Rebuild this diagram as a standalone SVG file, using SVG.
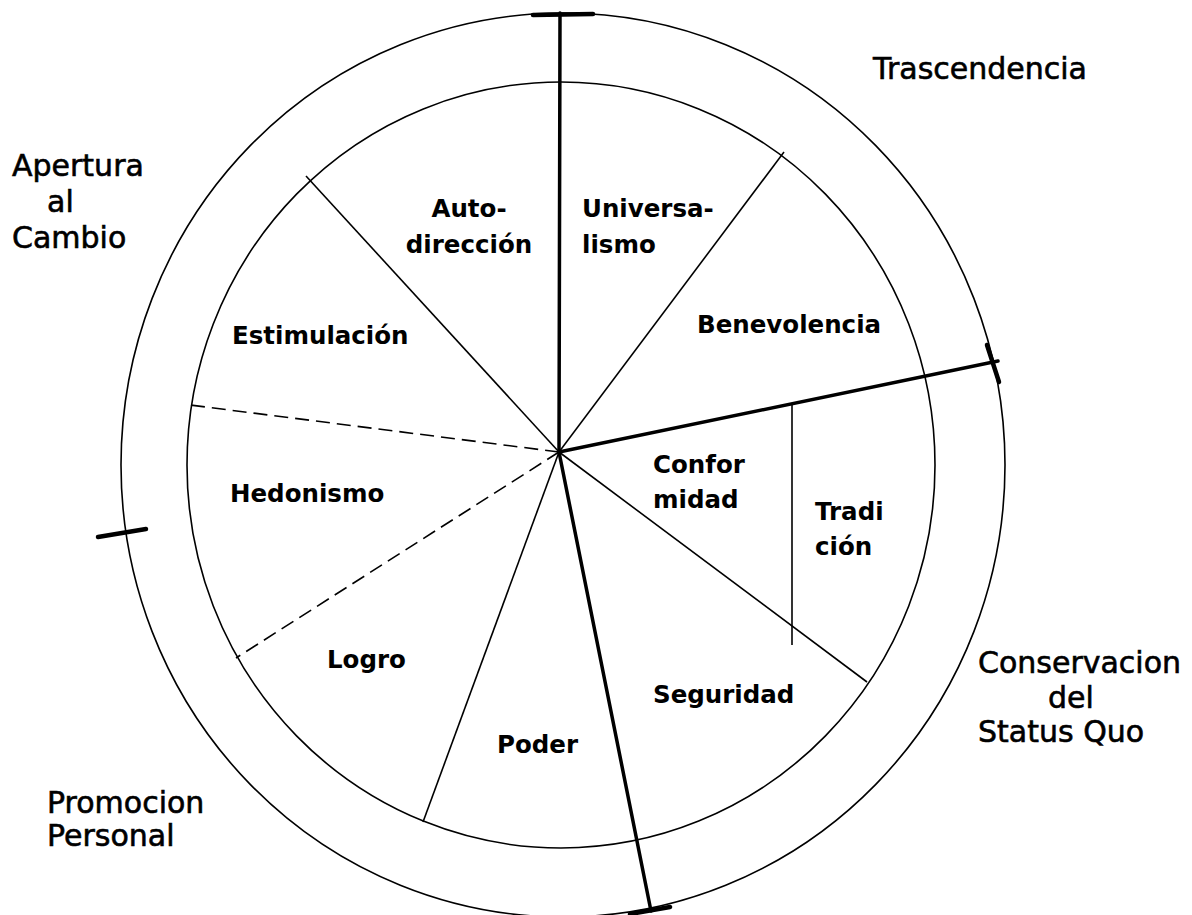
<svg xmlns="http://www.w3.org/2000/svg" width="1192" height="915" viewBox="0 0 1192 915">
<style>
.ring{fill:none;stroke:#000;stroke-width:1.6}
.thin{stroke:#000;stroke-width:1.6;fill:none}
.dash{stroke:#000;stroke-width:1.6;stroke-dasharray:14 7;fill:none}
.thick{stroke:#000;stroke-width:3.5;fill:none;stroke-linecap:round}
.tick{stroke:#000;stroke-width:4.5;fill:none;stroke-linecap:round}
.in{font-family:"DejaVu Sans",sans-serif;font-weight:bold;font-size:24.5px;fill:#000}
.out{font-family:"DejaVu Sans",sans-serif;font-size:30px;fill:#000;stroke:#000;stroke-width:0.6}
</style>
<rect width="1192" height="915" fill="#fff"/>
<g id="rings">
<ellipse class="ring" cx="563" cy="465" rx="442" ry="452"/>
<ellipse class="ring" cx="561" cy="465" rx="374" ry="383"/>
</g>
<g id="connectors">
<line class="thin" x1="559" y1="452" x2="306" y2="176"/>
<line class="dash" x1="559" y1="452" x2="190" y2="405"/>
<line class="dash" x1="559" y1="452" x2="236" y2="658"/>
<line class="thin" x1="559" y1="452" x2="423" y2="822"/>
<line class="thin" x1="559" y1="452" x2="784" y2="152"/>
<line class="thin" x1="559" y1="452" x2="867" y2="682"/>
<line class="thin" x1="792" y1="404" x2="792" y2="645"/>
<line class="thick" x1="560" y1="13" x2="559" y2="452"/>
<line class="thick" x1="559" y1="452" x2="998" y2="361"/>
<line class="thick" x1="559" y1="452" x2="651" y2="911"/>
<line class="tick" x1="533" y1="15" x2="593" y2="14"/>
<line class="tick" x1="987" y1="345" x2="999" y2="382"/>
<line class="tick" x1="98" y1="537" x2="146" y2="529"/>
<line class="tick" x1="630" y1="914" x2="670" y2="907"/>
</g>
<g id="autodireccion"><text class="in" x="469" y="217" text-anchor="middle">Auto-</text><text class="in" x="469" y="253" text-anchor="middle">dirección</text></g>
<g id="universalismo"><text class="in" x="582" y="217">Universa-</text><text class="in" x="582" y="253">lismo</text></g>
<g id="estimulacion"><text class="in" x="232" y="344">Estimulación</text></g>
<g id="benevolencia"><text class="in" x="697" y="333">Benevolencia</text></g>
<g id="hedonismo"><text class="in" x="230" y="502">Hedonismo</text></g>
<g id="conformidad"><text class="in" x="653" y="473">Confor</text><text class="in" x="653" y="508">midad</text></g>
<g id="tradicion"><text class="in" x="815" y="520">Tradi</text><text class="in" x="815" y="555">ción</text></g>
<g id="logro"><text class="in" x="327" y="668">Logro</text></g>
<g id="seguridad"><text class="in" x="653" y="703">Seguridad</text></g>
<g id="poder"><text class="in" x="497" y="753">Poder</text></g>
<g id="trascendencia"><text class="out" x="873" y="79">Trascendencia</text></g>
<g id="apertura"><text class="out" x="12" y="176">Apertura</text><text class="out" x="47" y="212">al</text><text class="out" x="12" y="248">Cambio</text></g>
<g id="conservacion"><text class="out" x="978" y="673">Conservacion</text><text class="out" x="1048" y="708">del</text><text class="out" x="978" y="742">Status Quo</text></g>
<g id="promocion"><text class="out" x="47" y="813">Promocion</text><text class="out" x="47" y="846">Personal</text></g>
</svg>
